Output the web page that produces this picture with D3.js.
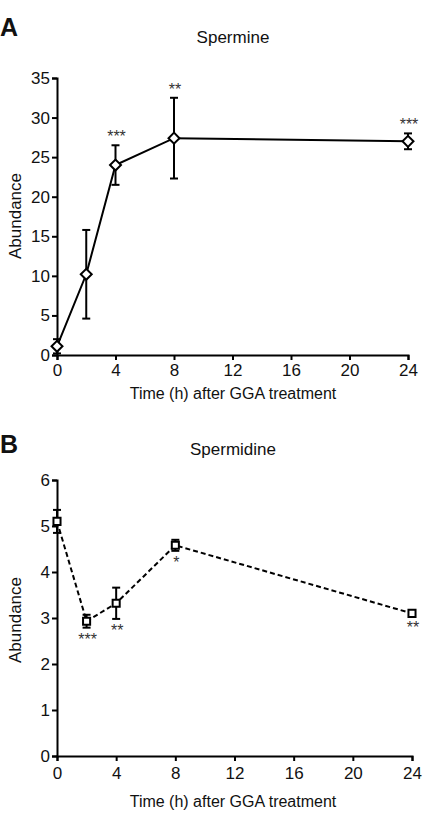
<!DOCTYPE html>
<html lang="en">
<head>
<meta charset="UTF-8">
<title>Spermine / Spermidine</title>
<script src="https://d3js.org/d3.v7.min.js"></script>
<style>
  body { margin: 0; background: #fff; font-family: "Liberation Sans", Arial, sans-serif; }
  svg text { fill: #111; font-family: "Liberation Sans", Arial, sans-serif; }
  .axis path, .axis line { stroke: #000; stroke-width: 2; }
</style>
</head>
<body>
<div id="chart"></div>
<script>
// time points (h)
const timesA = [0, 2, 4, 8, 24];
const spermine = [1.1, 10.2, 24.0, 27.4, 27.0];
const spermineErr = [0.9, 5.6, 2.5, 5.1, 1.0];
const spermineStars = ["", "", "***", "**", "***"];

const timesB = [0, 2, 4, 8, 24];
const spermidine = [5.1, 2.93, 3.32, 4.58, 3.1];
const spermidineErr = [0.25, 0.14, 0.34, 0.12, 0.06];
const spermidineStars = ["", "***", "**", "*", "**"];

const xTicks = [0, 4, 8, 12, 16, 20, 24];

const svg = d3.select("#chart").append("svg")
  .attr("width", 431).attr("height", 819);

function panel(opt) {
  const x = d3.scaleLinear().domain([0, 24]).range([opt.x0, opt.x1]);
  const y = d3.scaleLinear().domain([0, opt.yMax]).range([opt.y1, opt.y0]);
  const g = svg.append("g");

  // panel letter and title
  g.append("text").attr("x", 0).attr("y", opt.letterY)
    .style("font-size", "25px").style("font-weight", "bold")
    .text(opt.letter);
  g.append("text").attr("x", 233).attr("y", opt.titleY)
    .attr("text-anchor", "middle").style("font-size", "17px")
    .text(opt.title);

  const xa = g.append("g").attr("class", "axis")
    .attr("transform", `translate(0,${opt.y1})`)
    .call(d3.axisBottom(x).tickValues(xTicks).tickFormat(d3.format("d"))
      .tickSize(5).tickSizeOuter(5).tickPadding(opt.xPad));
  const ya = g.append("g").attr("class", "axis")
    .attr("transform", `translate(${opt.x0},0)`)
    .call(d3.axisLeft(y).tickValues(opt.yTicks).tickFormat(d3.format("d"))
      .tickSize(5).tickSizeOuter(5).tickPadding(2));
  [xa, ya].forEach(a => a.selectAll("text")
    .style("font-size", "17px").style("fill", "#111"));

  g.append("text").attr("x", 233).attr("y", opt.y1 + opt.labelOff)
    .attr("text-anchor", "middle").style("font-size", "16px")
    .text("Time (h) after GGA treatment");
  g.append("text")
    .attr("transform", `translate(21,${opt.yLabelMid}) rotate(-90)`)
    .attr("text-anchor", "middle").style("font-size", "17px")
    .text("Abundance");

  const pts = opt.t.map((t, i) => ({ t, v: opt.v[i], e: opt.e[i], s: opt.s[i] }));

  // error bars
  const eb = g.append("g").attr("stroke", "#000").attr("stroke-width", 2);
  pts.forEach(d => {
    const lo = Math.max(0, d.v - d.e), hi = d.v + d.e;
    eb.append("line").attr("x1", x(d.t)).attr("x2", x(d.t)).attr("y1", y(lo)).attr("y2", y(hi));
    [lo, hi].forEach(val => eb.append("line")
      .attr("x1", x(d.t) - 4).attr("x2", x(d.t) + 4).attr("y1", y(val)).attr("y2", y(val)));
  });

  g.append("path").datum(pts)
    .attr("fill", "none").attr("stroke", "#000").attr("stroke-width", 2)
    .attr("stroke-dasharray", opt.dash)
    .attr("d", d3.line().x(d => x(d.t)).y(d => y(d.v)));

  const sym = d3.symbol().type(d3.symbolSquare).size(opt.markSize);
  g.selectAll(".mark").data(pts).join("path")
    .attr("d", sym)
    .attr("transform", d => `translate(${x(d.t)},${y(d.v)}) rotate(${opt.rot})`)
    .attr("fill", "#fff").attr("stroke", "#000").attr("stroke-width", 2);

  g.selectAll(".star").data(pts).join("text")
    .attr("x", d => x(d.t) + 1)
    .attr("y", d => opt.starsAbove ? y(d.v + d.e) - 3 : y(Math.max(0, d.v - d.e)) + 17)
    .attr("text-anchor", "middle").style("font-size", "16px").style("fill", "#333")
    .text(d => d.s);
}

panel({
  letter: "A", letterY: 36, title: "Spermine", titleY: 43,
  x0: 57, x1: 408, y0: 78, y1: 355, yMax: 35,
  yTicks: [0, 5, 10, 15, 20, 25, 30, 35],
  t: timesA, v: spermine, e: spermineErr, s: spermineStars,
  dash: null, rot: 45, markSize: 60, starsAbove: true,
  xPad: 4, labelOff: 44, yLabelMid: 216
});

panel({
  letter: "B", letterY: 453, title: "Spermidine", titleY: 455,
  x0: 57, x1: 412, y0: 480, y1: 756, yMax: 6,
  yTicks: [0, 1, 2, 3, 4, 5, 6],
  t: timesB, v: spermidine, e: spermidineErr, s: spermidineStars,
  dash: "5,3", rot: 0, markSize: 50, starsAbove: false,
  xPad: 6, labelOff: 51, yLabelMid: 620
});
</script>
</body>
</html>
